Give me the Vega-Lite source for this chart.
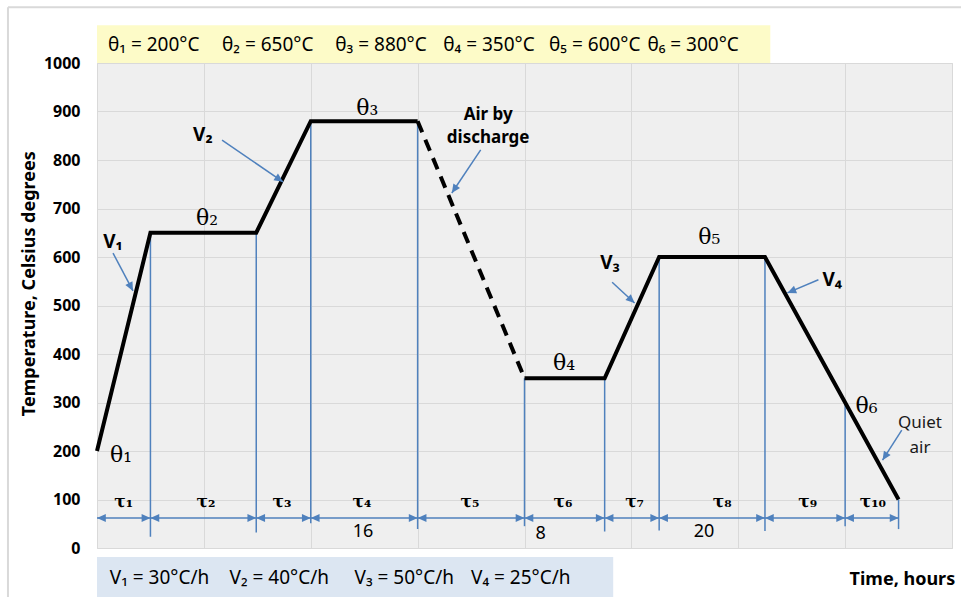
{
  "$schema": "https://vega.github.io/schema/vega-lite/v6.json",
  "width": 855,
  "height": 485,
  "autosize": {"type": "none"},
  "padding": {"left": 97, "top": 63, "right": 9, "bottom": 49},
  "background": "white",
  "config": {
    "view": {"stroke": "#d9d9d9", "fill": "#efefef"},
    "font": "Noto Sans",
    "axisX": {"grid": true, "gridColor": "#d9d9d9", "gridOpacity": 1, "labels": false, "ticks": false, "domain": false, "tickCount": 8},
    "axisY": {"grid": true, "gridColor": "#d9d9d9", "gridOpacity": 1, "ticks": false, "domain": false, "tickCount": 10, "format": "d",
      "labelFont": "Noto Sans", "labelFontSize": 16, "labelFontWeight": "bold", "labelColor": "#000000", "labelPadding": 17}
  },
  "datasets": {
    "boxes": [
      {"x1": 0, "x2": 63, "y1": 1000, "y2": 1078, "c": "top"},
      {"x1": 0, "x2": 48.3, "y1": -18.6, "y2": -110, "c": "bottom"}
    ],
    "borders": [
      {"x1": -8.33, "x2": 82, "y1": 1115, "y2": 1115},
      {"x1": -8.33, "x2": -8.33, "y1": -120, "y2": 1115}
    ],
    "curve": [
      {"t": 0, "T": 200, "seg": "a"},
      {"t": 5, "T": 650, "seg": "a"},
      {"t": 14.9, "T": 650, "seg": "a"},
      {"t": 20, "T": 880, "seg": "a"},
      {"t": 30, "T": 880, "seg": "a"},
      {"t": 40, "T": 350, "seg": "b"},
      {"t": 47.5, "T": 350, "seg": "b"},
      {"t": 52.6, "T": 600, "seg": "b"},
      {"t": 62.5, "T": 600, "seg": "b"},
      {"t": 75, "T": 100, "seg": "b"}
    ],
    "dashed": [
      {"t": 30, "T": 880},
      {"t": 40, "T": 350}
    ],
    "bounds": [
      {"t": 5, "top": 650, "bottom": 23},
      {"t": 14.9, "top": 650, "bottom": 32},
      {"t": 20, "top": 880, "bottom": 51},
      {"t": 30, "top": 880, "bottom": 39},
      {"t": 40, "top": 350, "bottom": 45},
      {"t": 47.5, "top": 350, "bottom": 34},
      {"t": 52.6, "top": 600, "bottom": 36},
      {"t": 62.5, "top": 600, "bottom": 35},
      {"t": 70, "top": 300, "bottom": 45},
      {"t": 75, "top": 100, "bottom": 39}
    ],
    "dimline": [{"t1": 0, "t2": 75, "T": 62}],
    "leftHeads": [
      {"t": 0, "T": 62}, {"t": 5, "T": 62}, {"t": 14.9, "T": 62}, {"t": 20, "T": 62}, {"t": 30, "T": 62},
      {"t": 40, "T": 62}, {"t": 47.5, "T": 62}, {"t": 52.6, "T": 62}, {"t": 62.5, "T": 62}, {"t": 70, "T": 62}
    ],
    "rightHeads": [
      {"t": 5, "T": 62}, {"t": 14.9, "T": 62}, {"t": 20, "T": 62}, {"t": 30, "T": 62}, {"t": 40, "T": 62},
      {"t": 47.5, "T": 62}, {"t": 52.6, "T": 62}, {"t": 62.5, "T": 62}, {"t": 70, "T": 62}, {"t": 75, "T": 62}
    ],
    "arrows": [
      {"t1": 1.5, "T1": 608, "t2": 3.37, "T2": 530},
      {"t1": 11.7, "T1": 841, "t2": 17.4, "T2": 755},
      {"t1": 35.9, "T1": 821, "t2": 33.2, "T2": 732},
      {"t1": 48.2, "T1": 548, "t2": 50.3, "T2": 505},
      {"t1": 67.5, "T1": 553, "t2": 64.6, "T2": 526},
      {"t1": 75.3, "T1": 243, "t2": 73.5, "T2": 181}
    ],
    "thetas": [
      {"t": 2.25, "T": 192, "label": "θ₁"},
      {"t": 10.3, "T": 680, "label": "θ₂"},
      {"t": 25.3, "T": 907, "label": "θ₃"},
      {"t": 43.7, "T": 381, "label": "θ₄"},
      {"t": 57.3, "T": 641, "label": "θ₅"},
      {"t": 72.0, "T": 293, "label": "θ₆"}
    ],
    "vlabels": [
      {"t": 1.5, "T": 631, "label": "V₁"},
      {"t": 9.9, "T": 852, "label": "V₂"},
      {"t": 48.0, "T": 588, "label": "V₃"},
      {"t": 68.8, "T": 553, "label": "V₄"}
    ],
    "taus": [
      {"t": 2.5, "T": 95, "label": "τ₁"},
      {"t": 10.2, "T": 95, "label": "τ₂"},
      {"t": 17.3, "T": 95, "label": "τ₃"},
      {"t": 24.8, "T": 95, "label": "τ₄"},
      {"t": 34.9, "T": 95, "label": "τ₅"},
      {"t": 43.6, "T": 95, "label": "τ₆"},
      {"t": 50.3, "T": 95, "label": "τ₇"},
      {"t": 58.5, "T": 95, "label": "τ₈"},
      {"t": 66.5, "T": 95, "label": "τ₉"},
      {"t": 72.6, "T": 95, "label": "τ₁₀"}
    ],
    "nums": [
      {"t": 24.9, "T": 33, "label": "16"},
      {"t": 41.5, "T": 29, "label": "8"},
      {"t": 56.8, "T": 33, "label": "20"}
    ],
    "boldNotes": [
      {"t": 36.6, "T": 893, "label": "Air by"},
      {"t": 36.6, "T": 845, "label": "discharge"}
    ],
    "notes": [
      {"t": 77.0, "T": 258, "label": "Quiet"},
      {"t": 77.0, "T": 206, "label": "air"}
    ],
    "topTexts": [
      {"t": 1.03, "T": 1037, "label": "θ₁ = 200°C"},
      {"t": 11.7, "T": 1037, "label": "θ₂ = 650°C"},
      {"t": 22.3, "T": 1037, "label": "θ₃ = 880°C"},
      {"t": 32.4, "T": 1037, "label": "θ₄ = 350°C"},
      {"t": 42.3, "T": 1037, "label": "θ₅ = 600°C"},
      {"t": 51.5, "T": 1037, "label": "θ₆ = 300°C"}
    ],
    "bottomTexts": [
      {"t": 1.2, "T": -62, "label": "V₁ = 30°C/h"},
      {"t": 12.4, "T": -62, "label": "V₂ = 40°C/h"},
      {"t": 24.1, "T": -62, "label": "V₃ = 50°C/h"},
      {"t": 35.0, "T": -62, "label": "V₄ = 25°C/h"}
    ],
    "xtitle": [{"t": 80.3, "T": -66, "label": "Time, hours"}],
    "ytitle": [{"t": -6.3, "T": 545, "label": "Temperature, Celsius degrees"}]
  },
  "layer": [
    {
      "data": {"name": "boxes"},
      "mark": {"type": "rect"},
      "encoding": {
        "x": {"field": "x1", "type": "quantitative", "scale": {"domain": [0, 80]}, "title": null},
        "x2": {"field": "x2"},
        "y": {"field": "y1", "type": "quantitative", "scale": {"domain": [0, 1000]}, "title": null},
        "y2": {"field": "y2"},
        "color": {"field": "c", "type": "nominal", "scale": {"domain": ["top", "bottom"], "range": ["#fdfbc8", "#dce6f2"]}, "legend": null}
      }
    },
    {
      "data": {"name": "borders"},
      "mark": {"type": "rule", "color": "#d9d9d9", "strokeWidth": 2},
      "encoding": {
        "x": {"field": "x1", "type": "quantitative", "scale": {"domain": [0, 80]}, "title": null},
        "x2": {"field": "x2"},
        "y": {"field": "y1", "type": "quantitative", "scale": {"domain": [0, 1000]}, "title": null},
        "y2": {"field": "y2"}
      }
    },
    {
      "data": {"name": "bounds"},
      "mark": {"type": "rule", "color": "#4f81bd", "strokeWidth": 1.5},
      "encoding": {
        "x": {"field": "t", "type": "quantitative", "scale": {"domain": [0, 80]}, "title": null},
        "y": {"field": "top", "type": "quantitative", "scale": {"domain": [0, 1000]}, "title": null},
        "y2": {"field": "bottom"}
      }
    },
    {
      "data": {"name": "dimline"},
      "mark": {"type": "rule", "color": "#4f81bd", "strokeWidth": 1.5},
      "encoding": {
        "x": {"field": "t1", "type": "quantitative", "scale": {"domain": [0, 80]}, "title": null},
        "x2": {"field": "t2"},
        "y": {"field": "T", "type": "quantitative", "scale": {"domain": [0, 1000]}, "title": null}
      }
    },
    {
      "data": {"name": "leftHeads"},
      "mark": {"type": "point", "shape": "M0,0L-1,2.2L1,2.2Z", "angle": 270, "filled": true, "color": "#4f81bd", "size": 64, "opacity": 1},
      "encoding": {
        "x": {"field": "t", "type": "quantitative", "scale": {"domain": [0, 80]}, "title": null},
        "y": {"field": "T", "type": "quantitative", "scale": {"domain": [0, 1000]}, "title": null}
      }
    },
    {
      "data": {"name": "rightHeads"},
      "mark": {"type": "point", "shape": "M0,0L-1,2.2L1,2.2Z", "angle": 90, "filled": true, "color": "#4f81bd", "size": 64, "opacity": 1},
      "encoding": {
        "x": {"field": "t", "type": "quantitative", "scale": {"domain": [0, 80]}, "title": null},
        "y": {"field": "T", "type": "quantitative", "scale": {"domain": [0, 1000]}, "title": null}
      }
    },
    {
      "data": {"name": "curve"},
      "mark": {"type": "line", "color": "#000000", "strokeWidth": 4, "strokeJoin": "miter"},
      "encoding": {
        "x": {"field": "t", "type": "quantitative", "scale": {"domain": [0, 80]}, "title": null},
        "y": {"field": "T", "type": "quantitative", "scale": {"domain": [0, 1000]}, "title": null},
        "detail": {"field": "seg", "type": "nominal"}
      }
    },
    {
      "data": {"name": "dashed"},
      "mark": {"type": "line", "color": "#000000", "strokeWidth": 4, "strokeDash": [12, 8]},
      "encoding": {
        "x": {"field": "t", "type": "quantitative", "scale": {"domain": [0, 80]}, "title": null},
        "y": {"field": "T", "type": "quantitative", "scale": {"domain": [0, 1000]}, "title": null}
      }
    },
    {
      "data": {"name": "arrows"},
      "mark": {"type": "rule", "color": "#4f81bd", "strokeWidth": 1.5},
      "encoding": {
        "x": {"field": "t1", "type": "quantitative", "scale": {"domain": [0, 80]}, "title": null},
        "x2": {"field": "t2"},
        "y": {"field": "T1", "type": "quantitative", "scale": {"domain": [0, 1000]}, "title": null},
        "y2": {"field": "T2"}
      }
    },
    {
      "data": {"name": "arrows"},
      "transform": [
        {"calculate": "atan2((datum.t2 - datum.t1) * 10.6875, (datum.T2 - datum.T1) * 0.485) * 180 / PI", "as": "ang"}
      ],
      "mark": {"type": "point", "shape": "M0,0L-1,2.2L1,2.2Z", "filled": true, "color": "#4f81bd", "size": 64, "opacity": 1},
      "encoding": {
        "x": {"field": "t2", "type": "quantitative", "scale": {"domain": [0, 80]}, "title": null},
        "y": {"field": "T2", "type": "quantitative", "scale": {"domain": [0, 1000]}, "title": null},
        "angle": {"field": "ang", "type": "quantitative", "scale": null}
      }
    },
    {
      "data": {"name": "thetas"},
      "mark": {"type": "text", "font": "DejaVu Serif", "fontSize": 22, "color": "#000000", "baseline": "middle"},
      "encoding": {
        "x": {"field": "t", "type": "quantitative", "scale": {"domain": [0, 80]}, "title": null},
        "y": {"field": "T", "type": "quantitative", "scale": {"domain": [0, 1000]}, "title": null},
        "text": {"field": "label"}
      }
    },
    {
      "data": {"name": "vlabels"},
      "mark": {"type": "text", "font": "Noto Sans", "fontSize": 19, "fontWeight": "bold", "color": "#000000", "baseline": "middle"},
      "encoding": {
        "x": {"field": "t", "type": "quantitative", "scale": {"domain": [0, 80]}, "title": null},
        "y": {"field": "T", "type": "quantitative", "scale": {"domain": [0, 1000]}, "title": null},
        "text": {"field": "label"}
      }
    },
    {
      "data": {"name": "taus"},
      "mark": {"type": "text", "font": "DejaVu Serif", "fontSize": 17, "fontWeight": "bold", "color": "#000000", "baseline": "middle"},
      "encoding": {
        "x": {"field": "t", "type": "quantitative", "scale": {"domain": [0, 80]}, "title": null},
        "y": {"field": "T", "type": "quantitative", "scale": {"domain": [0, 1000]}, "title": null},
        "text": {"field": "label"}
      }
    },
    {
      "data": {"name": "nums"},
      "mark": {"type": "text", "font": "Noto Sans", "fontSize": 18, "color": "#000000", "baseline": "middle"},
      "encoding": {
        "x": {"field": "t", "type": "quantitative", "scale": {"domain": [0, 80]}, "title": null},
        "y": {"field": "T", "type": "quantitative", "scale": {"domain": [0, 1000]}, "title": null},
        "text": {"field": "label"}
      }
    },
    {
      "data": {"name": "boldNotes"},
      "mark": {"type": "text", "font": "Noto Sans", "fontSize": 17, "fontWeight": "bold", "color": "#000000", "baseline": "middle"},
      "encoding": {
        "x": {"field": "t", "type": "quantitative", "scale": {"domain": [0, 80]}, "title": null},
        "y": {"field": "T", "type": "quantitative", "scale": {"domain": [0, 1000]}, "title": null},
        "text": {"field": "label"}
      }
    },
    {
      "data": {"name": "notes"},
      "mark": {"type": "text", "font": "Noto Sans", "fontSize": 17, "color": "#1a1a1a", "baseline": "middle"},
      "encoding": {
        "x": {"field": "t", "type": "quantitative", "scale": {"domain": [0, 80]}, "title": null},
        "y": {"field": "T", "type": "quantitative", "scale": {"domain": [0, 1000]}, "title": null},
        "text": {"field": "label"}
      }
    },
    {
      "data": {"name": "topTexts"},
      "mark": {"type": "text", "font": "Noto Sans", "fontSize": 19, "color": "#000000", "align": "left", "baseline": "middle"},
      "encoding": {
        "x": {"field": "t", "type": "quantitative", "scale": {"domain": [0, 80]}, "title": null},
        "y": {"field": "T", "type": "quantitative", "scale": {"domain": [0, 1000]}, "title": null},
        "text": {"field": "label"}
      }
    },
    {
      "data": {"name": "bottomTexts"},
      "mark": {"type": "text", "font": "Noto Sans", "fontSize": 19, "color": "#000000", "align": "left", "baseline": "middle"},
      "encoding": {
        "x": {"field": "t", "type": "quantitative", "scale": {"domain": [0, 80]}, "title": null},
        "y": {"field": "T", "type": "quantitative", "scale": {"domain": [0, 1000]}, "title": null},
        "text": {"field": "label"}
      }
    },
    {
      "data": {"name": "xtitle"},
      "mark": {"type": "text", "font": "Noto Sans", "fontSize": 18, "fontWeight": "bold", "color": "#000000", "align": "right", "baseline": "middle"},
      "encoding": {
        "x": {"field": "t", "type": "quantitative", "scale": {"domain": [0, 80]}, "title": null},
        "y": {"field": "T", "type": "quantitative", "scale": {"domain": [0, 1000]}, "title": null},
        "text": {"field": "label"}
      }
    },
    {
      "data": {"name": "ytitle"},
      "mark": {"type": "text", "font": "Noto Sans", "fontSize": 18, "fontWeight": "bold", "color": "#000000", "align": "center", "baseline": "middle", "angle": 270},
      "encoding": {
        "x": {"field": "t", "type": "quantitative", "scale": {"domain": [0, 80]}, "title": null},
        "y": {"field": "T", "type": "quantitative", "scale": {"domain": [0, 1000]}, "title": null},
        "text": {"field": "label"}
      }
    }
  ]
}
